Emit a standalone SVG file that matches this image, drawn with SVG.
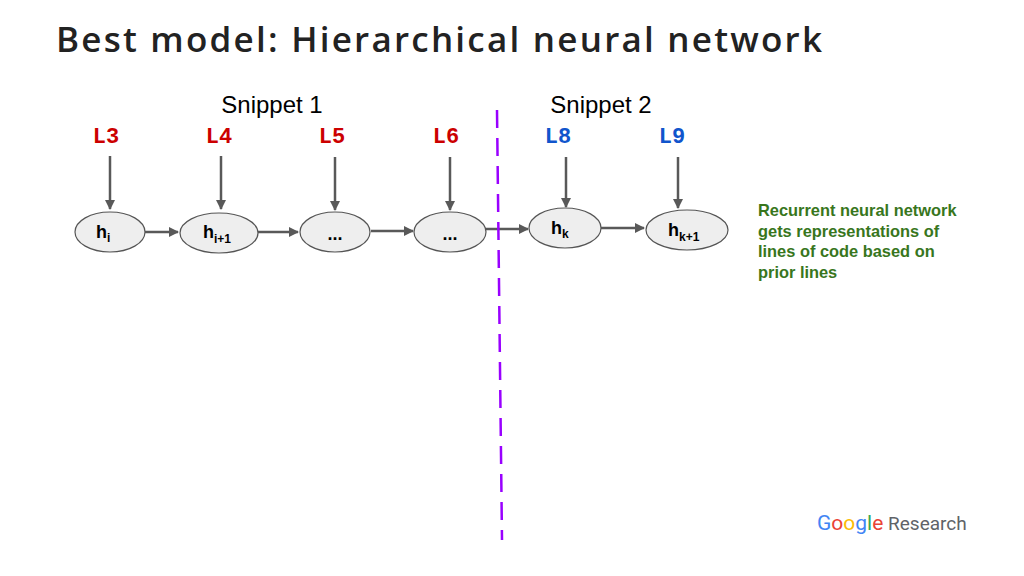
<svg xmlns="http://www.w3.org/2000/svg" width="1024" height="576" viewBox="0 0 1024 576">
<defs>
<style>
.n ellipse{fill:#eeeeee;stroke:#555;stroke-width:1.2}
.lab{font-family:"Liberation Sans",Arial,sans-serif;font-weight:bold;font-size:18px;fill:#000}
.sub{font-size:12px}
.c line{stroke:#595959;stroke-width:2.5;marker-end:url(#a)}
.snip{font-family:"Liberation Sans",Arial,sans-serif;font-size:24px;fill:#000}
.note{font-family:"Liberation Sans",Arial,sans-serif;font-weight:bold;font-size:16.4px;fill:#38761d}
</style>
<marker id="a" viewBox="0 0 10 10" refX="9" refY="5" markerWidth="4" markerHeight="4" orient="auto"><path d="M0,0L10,5L0,10z" fill="#595959"/></marker>
</defs>
<rect width="1024" height="576" fill="#fff"/>
<text x="56" y="52" font-family="Open Sans,Lato,sans-serif" font-weight="600" font-size="35" fill="#222" textLength="766">Best model: Hierarchical neural network</text>
<text x="272" y="113" text-anchor="middle" class="snip">Snippet 1</text>
<text x="601" y="113" text-anchor="middle" class="snip">Snippet 2</text>
<g font-family="Liberation Mono, Courier New, monospace" font-weight="bold" font-size="22" text-anchor="middle">
<text x="106" y="143" fill="#cc0000">L3</text>
<text x="219" y="143" fill="#cc0000">L4</text>
<text x="332" y="143" fill="#cc0000">L5</text>
<text x="446" y="143" fill="#cc0000">L6</text>
<text x="558" y="143" fill="#1155cc">L8</text>
<text x="672" y="143" fill="#1155cc">L9</text>
</g>
<g class="c">
<line x1="110" y1="156" x2="110" y2="209"/>
<line x1="221" y1="156" x2="221" y2="209"/>
<line x1="335" y1="157" x2="335" y2="210"/>
<line x1="450" y1="157" x2="450" y2="210"/>
<line x1="566" y1="157" x2="566" y2="207"/>
<line x1="678" y1="157" x2="678" y2="208"/>
<line x1="145" y1="232" x2="178" y2="232"/>
<line x1="258" y1="232" x2="298" y2="232"/>
<line x1="371" y1="231" x2="413" y2="231"/>
<line x1="486" y1="229" x2="528" y2="229"/>
<line x1="601" y1="228" x2="644" y2="228"/>
</g>
<line x1="497" y1="110" x2="502" y2="540" stroke="#9900ff" stroke-width="2.5" stroke-dasharray="18,10"/>
<g id="hi" class="n"><ellipse cx="110" cy="232" rx="35" ry="20"/><text class="lab" x="96" y="238">h<tspan class="sub" dy="4">i</tspan></text></g>
<g id="hi1" class="n"><ellipse cx="219" cy="233" rx="39" ry="20"/><text class="lab" x="203" y="238">h<tspan class="sub" dy="5">i+1</tspan></text></g>
<g id="d1" class="n"><ellipse cx="335" cy="232" rx="35" ry="20"/><text class="lab" x="335" y="240" text-anchor="middle">...</text></g>
<g id="d2" class="n"><ellipse cx="450" cy="232" rx="36" ry="20"/><text class="lab" x="450" y="240" text-anchor="middle">...</text></g>
<g id="hk" class="n"><ellipse cx="565" cy="228" rx="36" ry="20"/><text class="lab" x="551" y="234">h<tspan class="sub" dy="4">k</tspan></text></g>
<g id="hk1" class="n"><ellipse cx="687" cy="230" rx="41" ry="20"/><text class="lab" x="668" y="236">h<tspan class="sub" dy="5">k+1</tspan></text></g>
<g class="note">
<text x="758" y="216">Recurrent neural network</text>
<text x="758" y="237">gets representations of</text>
<text x="758" y="257">lines of code based on</text>
<text x="758" y="278">prior lines</text>
</g>
<text x="817" y="530" font-family="Roboto,Open Sans,sans-serif" font-size="21"><tspan fill="#4285f4">G</tspan><tspan fill="#ea4335">o</tspan><tspan fill="#fbbc05">o</tspan><tspan fill="#4285f4">g</tspan><tspan fill="#34a853">l</tspan><tspan fill="#ea4335">e</tspan><tspan fill="#5f6368" font-size="19"> Research</tspan></text>
</svg>
